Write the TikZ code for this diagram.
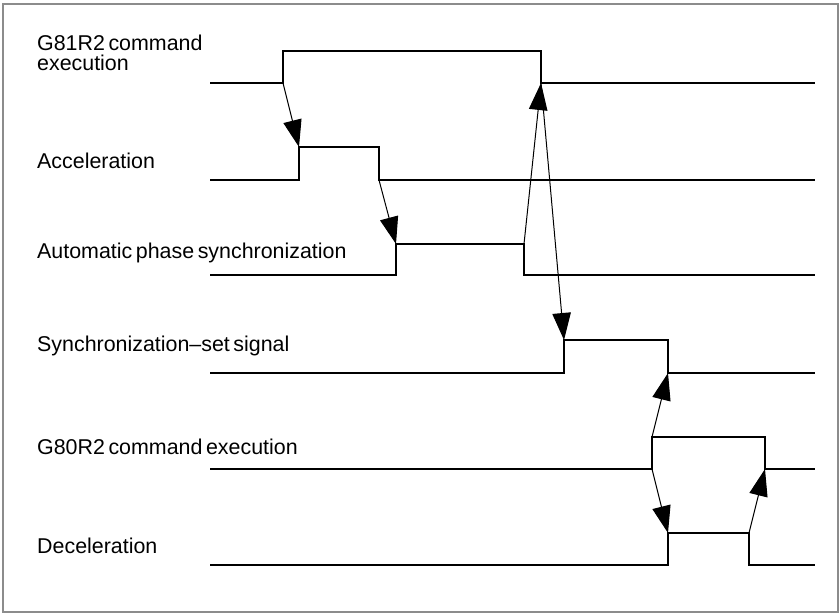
\documentclass[tikz,border=0pt]{standalone}
\usepackage{fontspec}
\setmainfont{Liberation Sans}[WordSpace=0.6]
\usetikzlibrary{arrows.meta}
\definecolor{framegray}{HTML}{8C8C8C}
\tikzset{
  sig/.style={line width=2.4pt, line join=miter, line cap=butt},
  cause/.style={line width=1pt, -{Triangle[length=27pt,width=18.5pt]}},
  lbl/.style={anchor=base west, inner sep=0pt, font=\fontsize{21.4}{20}\selectfont},
}
\begin{document}
\begin{tikzpicture}[x=1pt,y=-1pt]
\useasboundingbox (0,0) rectangle (840,614);
\draw[framegray, line width=2pt] (3,4) rectangle (838,612);

% labels
\node[lbl] (t1a) at (37,50) {G81R2 command};
\node[lbl] (t1b) at (37,70) {execution};
\node[lbl] (t2) at (37,168) {Acceleration};
\node[lbl] (t3) at (37,258) {Automatic phase synchronization};
\node[lbl] (t4) at (37,351) {Synchronization–set signal};
\node[lbl] (t5) at (37,454) {G80R2 command execution};
\node[lbl] (t6) at (37,553) {Deceleration};

% edge coordinates
\coordinate (g81lo) at (283,83);  \coordinate (g81hi) at (283,51);
\coordinate (g81fh) at (541,51);  \coordinate (g81fl) at (541,83);
\coordinate (acclo) at (299,180); \coordinate (acchi) at (299,147);
\coordinate (accfh) at (379,147); \coordinate (accfl) at (379,180);
\coordinate (apslo) at (396,275); \coordinate (apshi) at (396,244);
\coordinate (apsfh) at (524,244); \coordinate (apsfl) at (524,275);
\coordinate (synlo) at (564,373); \coordinate (synhi) at (564,340);
\coordinate (synfh) at (668,340); \coordinate (synfl) at (668,373);
\coordinate (g80lo) at (652,469); \coordinate (g80hi) at (652,437);
\coordinate (g80fh) at (765,437); \coordinate (g80fl) at (765,469);
\coordinate (declo) at (668,565); \coordinate (dechi) at (668,533);
\coordinate (decfh) at (749,533); \coordinate (decfl) at (749,565);

% signals
\draw[sig] (210,83) -- (g81lo) -- (g81hi) -- (g81fh) -- (g81fl) -- (815,83);
\draw[sig] (210,180) -- (acclo) -- (acchi) -- (accfh) -- (accfl) -- (815,180);
\draw[sig] (210,275) -- (apslo) -- (apshi) -- (apsfh) -- (apsfl) -- (815,275);
\draw[sig] (210,373) -- (synlo) -- (synhi) -- (synfh) -- (synfl) -- (815,373);
\draw[sig] (210,469) -- (g80lo) -- (g80hi) -- (g80fh) -- (g80fl) -- (815,469);
\draw[sig] (210,565) -- (declo) -- (dechi) -- (decfh) -- (decfl) -- (815,565);

% cause arrows
\draw[cause] (g81lo) -- (acchi);
\draw[cause] (accfl) -- (apshi);
\draw[cause] (apsfh) -- (g81fl);
\draw[cause] (g81fl) -- (synhi);
\draw[cause] (g80hi) -- (synfl);
\draw[cause] (g80lo) -- (dechi);
\draw[cause] (decfh) -- (g80fl);
\end{tikzpicture}
\end{document}
